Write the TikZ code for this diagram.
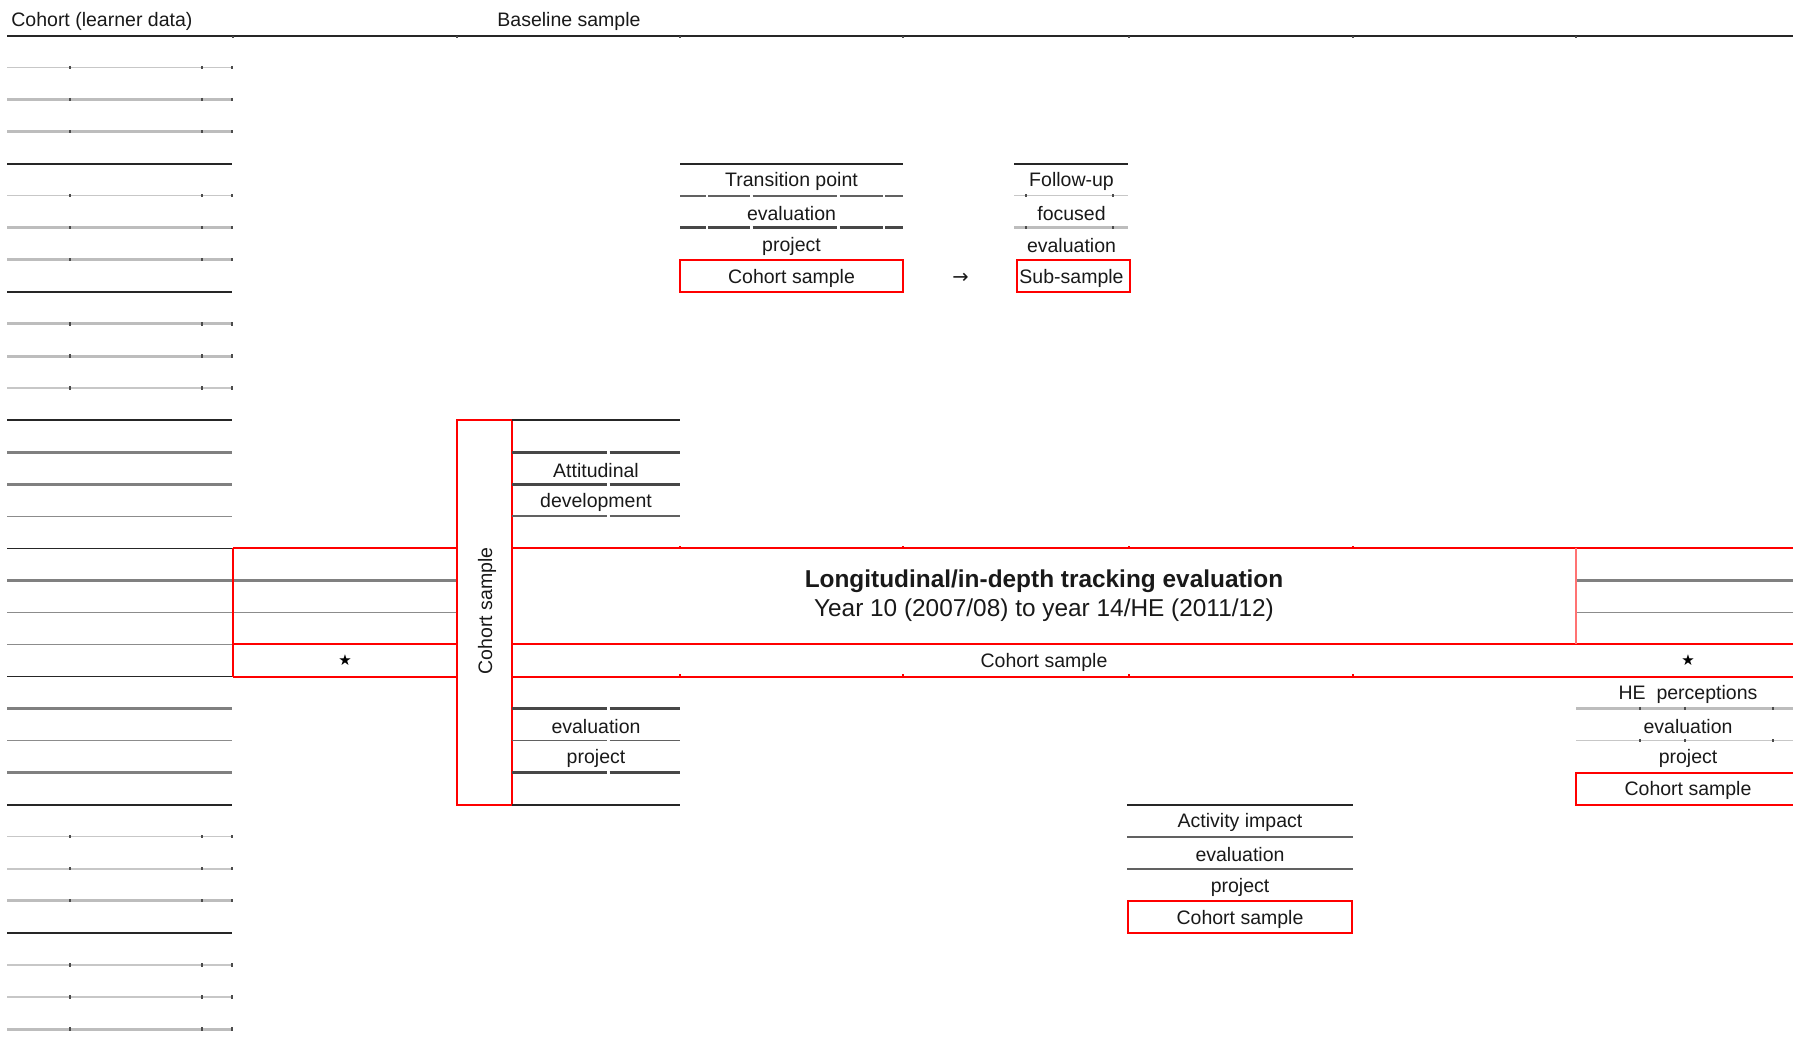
\documentclass[tikz,border=0pt]{standalone}
\usepackage{fontspec}
\setmainfont{Liberation Sans}
\newfontfamily\symfont{DejaVu Sans}
\tikzset{>=stealth}
\tikzset{
  blk/.style={line width=0.8pt, black!85},
  dkg/.style={line width=1.5pt, black!50},
  mdg/.style={line width=0.7pt, black!45},
  lgm/.style={line width=1.5pt, black!26},
  lgt/.style={line width=0.7pt, black!22},
  rul/.style={line width=1.4pt, black!72},
  rulthin/.style={line width=0.8pt, black!62},
  redl/.style={line width=1pt, red},
  tck/.style={line width=0.9pt, black!70},
  txt/.style={font=\fontsize{9.75}{11}\selectfont, inner sep=0pt, text=black!90},
  lbl/.style={txt, yshift=-1.1pt},
  stars/.style={font=\symfont\fontsize{7.5}{8}\selectfont, inner sep=0pt},
}

\begin{document}
\begin{tikzpicture}[x=0.5pt, y=-16.025pt]
\clip (0,-1.108) rectangle (1793,31.841);

% header
\draw[blk, line width=1pt] (7,0) -- (1800,0);
\foreach \x in {233,457,680,903,1129,1353,1576}
  \draw[tck] (\x,0) -- (\x,0.08);
\node[lbl, anchor=west] (cohort) at (11,-0.5) {Cohort (learner data)};
\node[lbl] (baseline) at (569,-0.5) {Baseline sample};

% learner data column
\foreach \k/\s in {1/lgt,2/lgm,3/lgm,4/blk,5/lgt,6/lgm,7/lgm,8/blk,9/lgm,10/lgm,11/lgt,12/blk,
                   13/dkg,14/dkg,15/mdg,16/blk,19/mdg,20/blk,21/dkg,22/mdg,23/dkg,24/blk,
                   25/lgt,26/lgt,27/lgm,28/blk,29/lgt,30/lgt,31/lgm}
  \draw[\s] (7,\k) -- (232,\k);
\foreach \k in {1,2,3,5,6,7,9,10,11,25,26,27,29,30,31}
  \foreach \x in {70,202,232}
    \draw[tck] (\x,\k-0.05) -- (\x,\k+0.05);
\draw[dkg] (7,17) -- (457,17) (1576,17) -- (1800,17);
\draw[mdg] (7,18) -- (457,18) (1576,18) -- (1800,18);

% tracking band
\draw[redl] (233,16) -- (457,16) (512,16) -- (1800,16);
\draw[redl] (233,19) -- (457,19) (512,19) -- (1800,19);
\draw[redl] (233,20) -- (457,20) (512,20) -- (1800,20);
\draw[redl] (233,16) -- (233,20);
\draw[redl] (457,12) rectangle (512,24);
\draw[line width=1.4pt, red!55] (1576,16) -- (1576,19);
\foreach \x in {680,903,1129,1353}
  \draw[redl, line width=0.6pt] (\x,16) -- (\x,15.92) (\x,20) -- (\x,19.92);
\node[txt, rotate=90] (vcs) at (487,17.95) {Cohort sample};
\node[lbl, align=center, font=\fontsize{12.2}{14.8}\selectfont] (track) at (1044,17.41)
  {\textbf{Longitudinal/in-depth tracking evaluation}\\Year 10 (2007/08) to year 14/HE (2011/12)};
\node[lbl] (bandcs) at (1044,19.5) {Cohort sample};
\node[stars] (starl) at (345,19.5) {★};
\node[stars] (starr) at (1688,19.5) {★};

% transition point
\draw[blk] (680,4) -- (903,4);
\foreach \a/\b in {680/705.5,708/750,752.5/837,839.5/882.5,885/903}{
  \draw[rulthin] (\a,5) -- (\b,5);
  \draw[rul] (\a,6) -- (\b,6);
}
\draw[redl] (680,7) rectangle (903,8);
\node[lbl] (tp1) at (791.5,4.5) {Transition point};
\node[lbl] (tp2) at (791.5,5.5) {evaluation};
\node[lbl] (tp3) at (791.5,6.5) {project};
\node[lbl] (tpcs) at (791.5,7.5) {Cohort sample};
\node[lbl, font=\symfont\fontsize{9.75}{11}\selectfont] (arr) at (960.5,7.5) {→};

% follow-up
\draw[blk] (1014,4) -- (1128,4);
\draw[lgt] (1014,5) -- (1128,5);
\draw[lgm] (1014,6) -- (1128,6);
\foreach \k in {5,6}
  \foreach \x in {1026,1113}
    \draw[tck] (\x,\k-0.05) -- (\x,\k+0.05);
\draw[redl] (1017,7) rectangle (1130,8);
\node[lbl] (fu1) at (1071.5,4.5) {Follow-up};
\node[lbl] (fu2) at (1071.5,5.5) {focused};
\node[lbl] (fu3) at (1071.5,6.5) {evaluation};
\node[lbl] (fucs) at (1071.5,7.5) {Sub-sample};

% attitudinal development
\draw[blk] (512,12) -- (680,12);
\foreach \k/\s in {13/rul,14/rul,15/rulthin,21/rul,22/rulthin,23/rul}
  \draw[\s] (512,\k) -- (606.5,\k) (609.5,\k) -- (680,\k);
\draw[blk] (512,24) -- (680,24);
\node[lbl] (at1) at (596,13.5) {Attitudinal};
\node[lbl] (at2) at (596,14.5) {development};
\node[lbl] (at3) at (596,21.5) {evaluation};
\node[lbl] (at4) at (596,22.5) {project};

% HE perceptions
\draw[lgm] (1576,21) -- (1800,21);
\draw[lgt] (1576,22) -- (1800,22);
\foreach \k in {21,22}
  \foreach \x in {1640,1685,1773}
    \draw[tck] (\x,\k-0.05) -- (\x,\k+0.05);
\draw[redl] (1576,23) rectangle (1800,24);
\node[lbl] (he1) at (1688,20.5) {HE\ \ perceptions};
\node[lbl] (he2) at (1688,21.5) {evaluation};
\node[lbl] (he3) at (1688,22.5) {project};
\node[lbl] (hecs) at (1688,23.5) {Cohort sample};

% activity impact
\draw[blk] (1127,24) -- (1353,24);
\draw[rulthin] (1127,25) -- (1353,25) (1127,26) -- (1353,26);
\draw[redl] (1128,27) rectangle (1352,28);
\node[lbl] (ai1) at (1240,24.5) {Activity impact};
\node[lbl] (ai2) at (1240,25.5) {evaluation};
\node[lbl] (ai3) at (1240,26.5) {project};
\node[lbl] (aics) at (1240,27.5) {Cohort sample};
\end{tikzpicture}
\end{document}
